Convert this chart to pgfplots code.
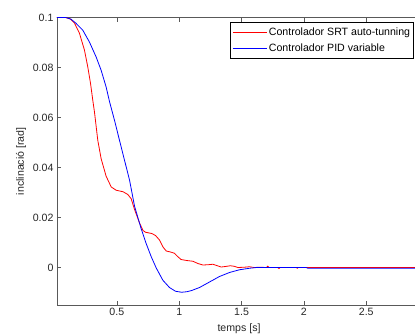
\documentclass[border=0pt]{standalone}
\usepackage{pgfplots}
\pgfplotsset{compat=1.18}
\usepackage{fontspec}
\setmainfont{Liberation Sans}
\definecolor{axgray}{gray}{0.35}
\newcommand{\mfont}{\fontsize{10.6}{12.7}\selectfont}
\begin{document}
\begin{tikzpicture}
\path[use as bounding box] (-57pt,-28pt) rectangle (358pt,305pt);
\clip (-57pt,-28pt) rectangle (358pt,305pt);
\begin{axis}[
  at={(0pt,0pt)}, anchor=south west,
  scale only axis,
  width=364.1pt, height=287.5pt,
  xmin=0.02, xmax=2.94, ymin=-0.015, ymax=0.1,
  xtick={0.5,1,1.5,2,2.5}, xticklabels={0.5,1,1.5,2,2.5},
  ytick={0,0.02,0.04,0.06,0.08,0.1}, yticklabels={0,0.02,0.04,0.06,0.08,0.1},
  scaled ticks=false,
  tick align=inside, major tick length=4pt,
  every tick/.style={axgray, line width=0.6pt},
  axis line style={axgray, line width=0.8pt},
  tick label style={font=\mfont, text=black!85},
  xlabel={temps [s]}, ylabel={inclinació [rad]},
  label style={font=\mfont, text=black!85},
  xlabel style={at={(axis description cs:0.5,0)}, anchor=north, yshift=-19pt, inner sep=0pt},
  ylabel style={at={(axis description cs:-0.0989,0.5)}, anchor=center, rotate=0},
  legend style={at={(axis description cs:0.9805,0.9833)}, anchor=north east, font=\mfont,
    draw=black, line width=0.6pt, inner xsep=2pt, inner ysep=3.5pt,
    nodes={inner sep=1.6pt, text=black}, row sep=3.5pt, cells={anchor=west}},
  legend image code/.code={\draw[#1, line width=0.8pt] (0pt,0pt) -- (34pt,0pt);},
  legend cell align=left,
]
\addplot[red, line width=0.8pt] coordinates {
(0.02,0.1) (0.09,0.1) (0.13,0.0993) (0.16,0.0978) (0.20,0.0937) (0.24,0.0870)
(0.267,0.0802) (0.289,0.0736) (0.307,0.0669) (0.321,0.0620) (0.347,0.0509)
(0.374,0.0435) (0.414,0.0365) (0.455,0.0322) (0.495,0.0309) (0.55,0.0303)
(0.588,0.0292) (0.615,0.0275) (0.642,0.0232) (0.682,0.0178) (0.71,0.0148)
(0.73,0.0141) (0.78,0.0136) (0.81,0.0128) (0.842,0.0110) (0.87,0.0082)
(0.896,0.0066) (0.93,0.0062) (0.962,0.0057) (0.985,0.0045) (1.015,0.0032)
(1.06,0.0028) (1.11,0.0025) (1.15,0.0016) (1.19,0.0010) (1.23,0.0011)
(1.27,0.0013) (1.30,0.0008) (1.337,0.0002) (1.37,0.0004) (1.41,0.0007)
(1.44,0.0005) (1.47,0.0000) (1.52,0.0001) (1.564,0.0003) (1.60,0.0000)
(1.645,0.0001) (1.70,0.0) (1.71,0.0005) (1.72,0.0) (1.79,0.0) (1.80,-0.0004)
(1.81,0) (1.94,0) (1.946,-0.0003) (1.955,0) (2.94,0)
};
\addlegendentry{Controlador SRT auto-tunning}
\addplot[blue, line width=0.8pt] coordinates {
(0.02,0.1) (0.09,0.1) (0.13,0.0994) (0.17,0.0978) (0.227,0.0949) (0.28,0.0902)
(0.334,0.0842) (0.374,0.0789) (0.414,0.0722) (0.441,0.0664) (0.481,0.0589)
(0.521,0.0509) (0.561,0.0430) (0.602,0.0349) (0.642,0.0245) (0.695,0.0155)
(0.735,0.0096) (0.775,0.0044) (0.816,-0.0002) (0.869,-0.0051) (0.922,-0.0080)
(0.97,-0.0095) (1.02,-0.0099) (1.06,-0.0097) (1.10,-0.0092) (1.163,-0.0080)
(1.243,-0.0058) (1.323,-0.0036) (1.403,-0.0020) (1.484,-0.0009) (1.564,-0.0003)
(1.62,0) (2.02,0) (2.03,-0.0003) (2.94,-0.0003)
};
\addlegendentry{Controlador PID variable}
\end{axis}
\end{tikzpicture}
\end{document}
